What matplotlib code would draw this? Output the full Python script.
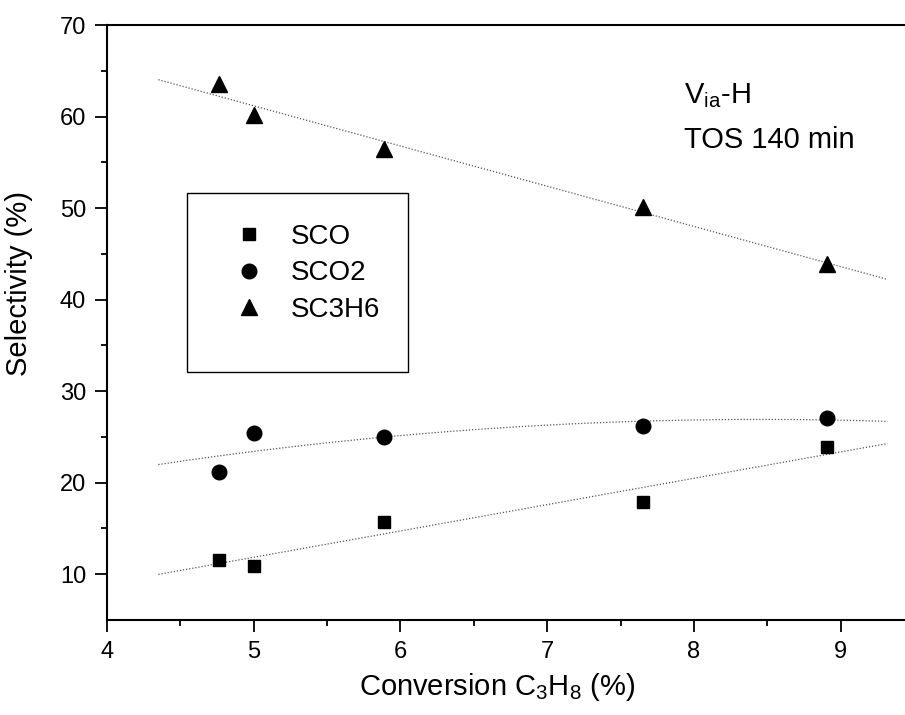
import numpy as np
import matplotlib
matplotlib.use('Agg')
import matplotlib.pyplot as plt
from matplotlib.patches import Rectangle

plt.rcParams['font.family'] = ['Liberation Sans', 'DejaVu Sans']
plt.rcParams['mathtext.default'] = 'regular'

# data
conv = [4.76, 5.00, 5.89, 7.65, 8.91]
sco = [11.6, 10.9, 15.7, 17.9, 23.9]
sco2 = [21.2, 25.4, 25.0, 26.2, 27.1]
sc3h6 = [63.6, 60.2, 56.4, 50.1, 43.9]
fit_range = [4.35, 9.32]

fig = plt.figure(figsize=(9.05, 7.15), dpi=100)
ax = fig.add_axes([107/905, 95/715, 807/905, 595/715])

# dotted trend lines (linear for SCO / SC3H6, quadratic for SCO2)
xfit = np.linspace(fit_range[0], fit_range[1], 200)
for ys, deg in ((sco, 1), (sco2, 2), (sc3h6, 1)):
    c = np.polyfit(conv, ys, deg)
    ax.plot(xfit, np.polyval(c, xfit), ls=(0, (1, 1.5)), lw=0.9, color='#555555')

ax.plot(conv, sco, 's', color='black', ms=9, label='SCO')
ax.plot(conv, sco2, 'o', color='black', ms=10.5, label='SCO2')
ax.plot(conv, sc3h6, '^', color='black', ms=11.5, label='SC3H6')

ax.set_xlim(4, 9.5)
ax.set_ylim(5, 70)
ax.set_xticks([4, 5, 6, 7, 8, 9])
ax.set_xticks(np.arange(4.5, 9.5, 1.0), minor=True)
ax.set_yticks([10, 20, 30, 40, 50, 60, 70])
ax.set_yticks(np.arange(15, 70, 10), minor=True)
ax.tick_params(which='major', direction='out', length=8.5, width=1.3,
               labelsize=17, pad=6.5)
ax.tick_params(which='minor', direction='out', length=4.5, width=1.3)
ax.tick_params(top=False, right=False)
for s in ax.spines.values():
    s.set_linewidth(1.5)

ax.set_xlabel('Conversion C$_3$H$_8$ (%)', fontsize=21)
ax.set_ylabel('Selectivity (%)', fontsize=21)
ax.xaxis.set_label_coords(0.483, -0.085)
ax.yaxis.set_label_coords(-0.092, 0.566)

# legend box
ax.add_patch(Rectangle((0.099, 0.417), 0.274, 0.301, transform=ax.transAxes,
                       fill=False, lw=1.0, ec='black'))
ax.legend(loc='upper left', bbox_to_anchor=(0.159, 0.666), frameon=False,
          fontsize=20, handlelength=1.0, handletextpad=1.0, borderpad=0,
          labelspacing=0.38, borderaxespad=0)

ax.text(0.715, 0.869, 'V$_{ia}$-H', transform=ax.transAxes, fontsize=21,
        va='baseline')
ax.text(0.715, 0.793, 'TOS 140 min', transform=ax.transAxes, fontsize=21,
        va='baseline')

fig.savefig('out.png', dpi=100)
